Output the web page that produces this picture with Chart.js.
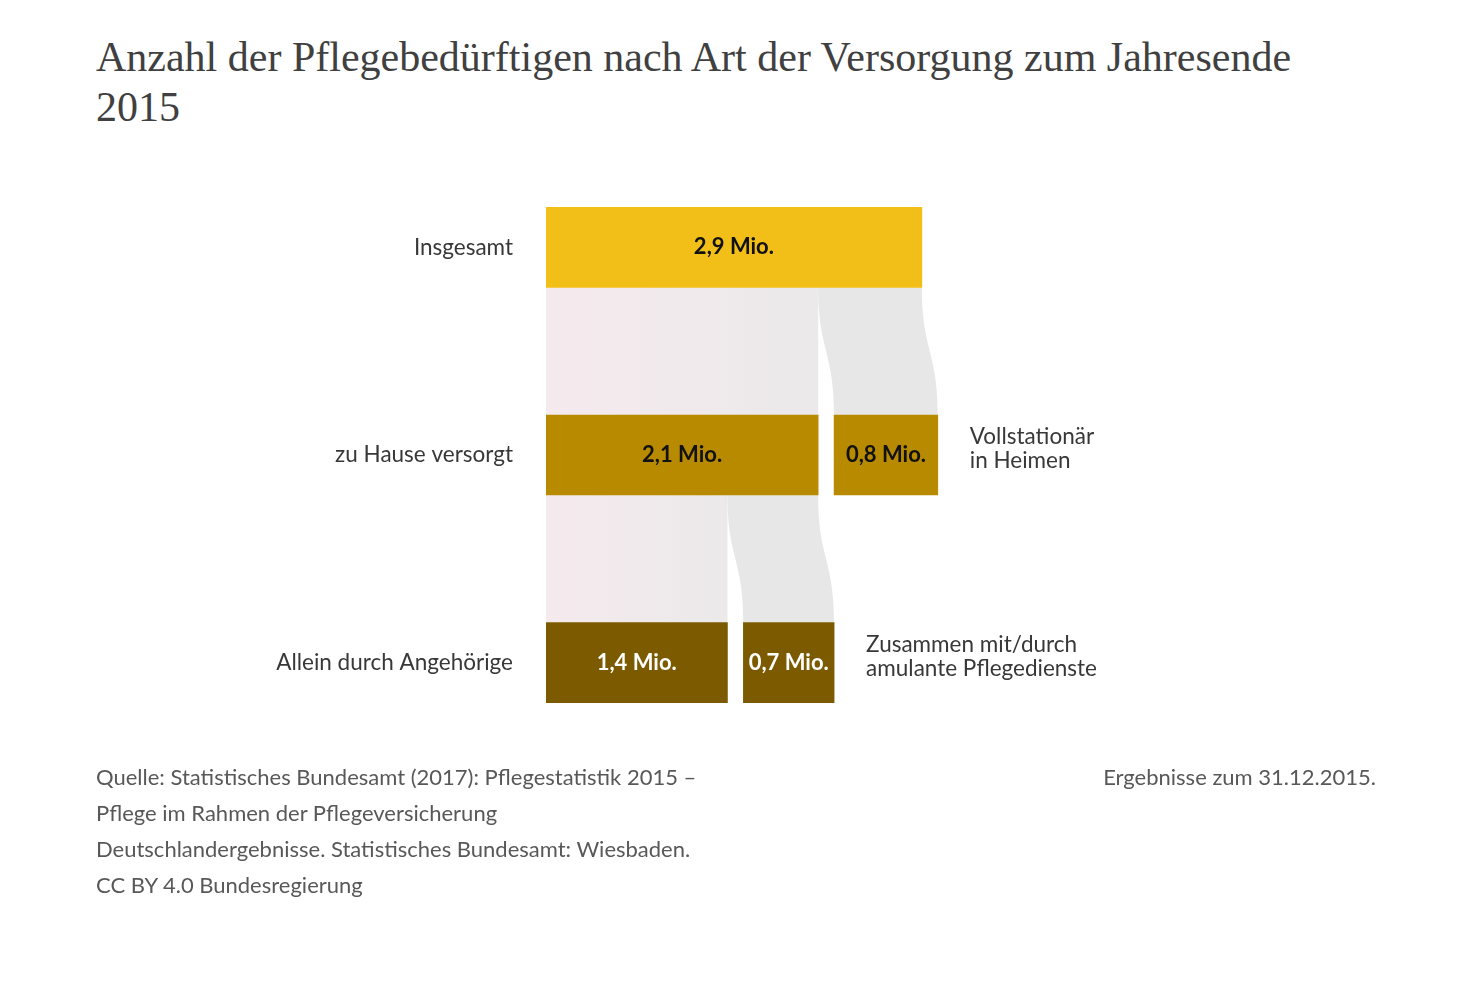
<!DOCTYPE html>
<html>
<head>
<meta charset="utf-8">
<script src="https://cdn.jsdelivr.net/npm/chart.js@4"></script>
<style>
body{margin:0;background:#fff;width:1474px;height:1007px;position:relative;overflow:hidden}
#title{position:absolute;left:96px;top:32px;font-family:"Liberation Serif",serif;font-size:42px;line-height:50px;color:#404040}
#wrap{position:absolute;left:0;top:97px;width:1474px;height:716px}
#source{position:absolute;left:96px;top:759px;font-family:Lato,sans-serif;font-size:22px;line-height:36px;color:#585858}
#note{position:absolute;right:98px;top:759px;font-family:Lato,sans-serif;font-size:22px;line-height:36px;color:#585858}
</style>
</head>
<body>
<div id="title">Anzahl der Pflegebedürftigen nach Art der Versorgung zum Jahresende<br>2015</div>
<div id="wrap"><canvas id="c"></canvas></div>
<div id="source">Quelle: Statistisches Bundesamt (2017): Pflegestatistik 2015 –<br>Pflege im Rahmen der Pflegeversicherung<br>Deutschlandergebnisse. Statistisches Bundesamt: Wiesbaden.<br>CC BY 4.0 Bundesregierung</div>
<div id="note">Ergebnisse zum 31.12.2015.</div>
<script>
// rows of the chart, top to bottom
let rowLabels = ["Insgesamt", "zu Hause versorgt", "Allein durch Angehörige"]
// left block per row (Mio.)
let leftValues = [2.9, 2.1, 1.4]
// right block per row (Mio.), none for the first row
let rightValues = [null, 0.8, 0.7]
let rightLabels = [null, ["Vollstationär", "in Heimen"], ["Zusammen mit/durch", "amulante Pflegedienste"]]

let rowColors = ["#f1bf18", "#b88a00", "#7b5a00"]
let textColors = ["#111", "#111", "#fff"]
let gap = 0.123 // white space between the two blocks, in Mio.

let fmt = v => v.toFixed(1).replace(".", ",") + " Mio."

let leftData = leftValues.map(v => [0, v])
let rightData = rightValues.map((v, i) => v == null ? null : [leftValues[i] + gap, leftValues[i] + gap + v])

// ----------------------------
// FLOWS between rows
// ----------------------------
const flows = {
  id: "flows",
  beforeDatasetsDraw(chart) {
    const c = chart.ctx
    const x = chart.scales.x
    const y = chart.scales.y
    const half = 40
    for (let i = 0; i < rowLabels.length - 1; i++) {
      const y0 = y.getPixelForValue(i) + half
      const y1 = y.getPixelForValue(i + 1) - half
      const xa = x.getPixelForValue(0)
      const xb = x.getPixelForValue(leftValues[i + 1])
      // straight band
      const g = c.createLinearGradient(xa, 0, xb, 0)
      g.addColorStop(0, "#f5eaee")
      g.addColorStop(1, "#ebe9ea")
      c.fillStyle = g
      c.fillRect(xa, y0, xb - xa, y1 - y0)
      // curved band to the right block
      const t0 = x.getPixelForValue(leftValues[i + 1])
      const t1 = x.getPixelForValue(leftValues[i])
      const b0 = x.getPixelForValue(rightData[i + 1][0])
      const b1 = x.getPixelForValue(rightData[i + 1][1])
      const ym = (y0 + y1) / 2
      c.beginPath()
      c.moveTo(t0, y0)
      c.lineTo(t1, y0)
      c.bezierCurveTo(t1, ym, b1, ym, b1, y1)
      c.lineTo(b0, y1)
      c.bezierCurveTo(b0, ym, t0, ym, t0, y0)
      c.closePath()
      c.fillStyle = "#e8e7e7"
      c.fill()
    }
  }
}

// ----------------------------
// LABELS in and next to the blocks
// ----------------------------
const labels = {
  id: "labels",
  afterDatasetsDraw(chart) {
    const c = chart.ctx
    const x = chart.scales.x
    const y = chart.scales.y
    c.save()
    c.textBaseline = "middle"
    for (let i = 0; i < rowLabels.length; i++) {
      const yc = y.getPixelForValue(i)
      c.font = "bold 22px Lato"
      c.textAlign = "center"
      c.fillStyle = textColors[i]
      c.fillText(fmt(leftValues[i]), (x.getPixelForValue(leftData[i][0]) + x.getPixelForValue(leftData[i][1])) / 2, yc)
      if (rightData[i]) {
        const xr0 = x.getPixelForValue(rightData[i][0])
        const xr1 = x.getPixelForValue(rightData[i][1])
        c.fillText(fmt(rightValues[i]), (xr0 + xr1) / 2, yc)
        c.font = "22.5px Lato"
        c.textAlign = "left"
        c.fillStyle = "#383838"
        rightLabels[i].forEach((t, k) => c.fillText(t, xr1 + 32, yc - 18 + k * 24))
      }
    }
    c.restore()
  }
}

new Chart(document.getElementById("c"), {
  type: "bar",
  data: {
    labels: rowLabels,
    datasets: [
      { data: leftData, backgroundColor: rowColors, barThickness: 80, grouped: false },
      { data: rightData, backgroundColor: rowColors, barThickness: 80, grouped: false }
    ]
  },
  options: {
    indexAxis: "y",
    responsive: true,
    maintainAspectRatio: false,
    animation: false,
    layout: { padding: { left: 0, right: 280, top: 0, bottom: 0 } },
    plugins: { legend: { display: false }, tooltip: { enabled: false } },
    scales: {
      x: { display: false, min: 0, max: 5 },
      y: {
        grid: { display: false, drawTicks: false },
        border: { display: false },
        ticks: { padding: 33, color: "#383838", font: { family: "Lato", size: 22.5 } },
        afterFit(scale) { scale.width = 546 }
      }
    }
  },
  plugins: [flows, labels]
})
</script>
</body>
</html>
